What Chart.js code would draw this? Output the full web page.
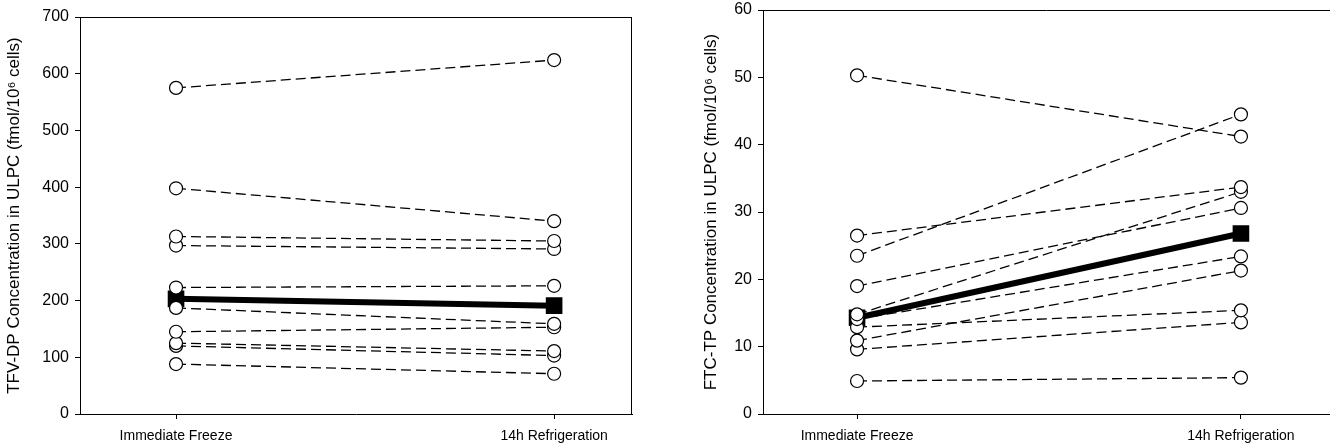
<!DOCTYPE html>
<html lang="en">
<head>
  <meta charset="UTF-8" />
  <title>ULPC Concentrations</title>
  <script src="https://cdn.jsdelivr.net/npm/chart.js"></script>
  <style>
    body {
      margin: 0;
      background: #ffffff;
      font-family: 'Liberation Sans', Arial, sans-serif;
    }
    .panel {
      position: absolute;
      top: 0;
    }
    #leftPanel { left: 0; }
    #rightPanel { left: 697px; }
  </style>
</head>
<body>

  <div class="panel" id="leftPanel"><canvas id="tfvChart" width="660" height="445"></canvas></div>
  <div class="panel" id="rightPanel"><canvas id="ftcChart" width="633" height="445"></canvas></div>

  <script>
    const conditions = ['Immediate Freeze', '14h Refrigeration'];

    // TFV-DP per subject (fmol/10^6 cells)
    const tfvFreeze  = [575, 398, 313, 297, 223, 187, 145, 125, 120, 88];
    const tfvFridge  = [624, 340, 305, 291, 226, 159, 153, 111, 103, 71];
    const tfvMean    = [203, 191];

    // FTC-TP per subject (fmol/10^6 cells)
    const ftcFreeze  = [50.3, 26.5, 23.5, 19.0, 14.8, 14.1, 12.9, 10.9, 9.6, 4.9];
    const ftcFridge  = [41.2, 33.7, 44.5, 30.6, 33.0, 23.4, 15.4, 21.3, 13.6, 5.4];
    const ftcMean    = [14.3, 26.8];

    const tfvTicks = [0, 100, 200, 300, 400, 500, 600, 700];
    const ftcTicks = [0, 10, 20, 30, 40, 50, 60];

    Chart.defaults.font.family = "'Liberation Sans', Arial, sans-serif";
    Chart.defaults.color = '#000';

    // draws the frame round the plot area (top/right edges)
    const frame = {
      id: 'frame',
      afterDraw(chart, args, opts) {
        const a = chart.chartArea, ctx = chart.ctx;
        ctx.save();
        ctx.strokeStyle = '#000';
        ctx.lineWidth = 1;
        ctx.beginPath();
        ctx.moveTo(a.left, a.top + 0.5);
        ctx.lineTo(a.right, a.top + 0.5);
        if (opts.right) {
          ctx.moveTo(a.right - 0.5, a.top);
          ctx.lineTo(a.right - 0.5, a.bottom);
        }
        ctx.stroke();
        ctx.restore();
      }
    };

    function subjectSets(before, after) {
      return before.map((v, i) => ({
        data: [{ x: 1, y: v }, { x: 2, y: after[i] }],
        borderColor: '#000',
        borderWidth: 1.3,
        borderDash: [10, 5],
        pointRadius: 6.5,
        pointBorderWidth: 1.2,
        pointBackgroundColor: '#fff',
        pointBorderColor: '#000'
      }));
    }

    function meanSet(vals) {
      return {
        data: [{ x: 1, y: vals[0] }, { x: 2, y: vals[1] }],
        borderColor: '#000',
        borderWidth: 6,
        pointStyle: 'rect',
        pointRadius: 7.5,
        pointBackgroundColor: '#000',
        pointBorderColor: '#000'
      };
    }

    function makeChart(id, sets, yMax, yTicks, title, xMin, xMax, yWidth, pad, rightEdge) {
      return new Chart(document.getElementById(id), {
        type: 'line',
        data: { datasets: sets },
        plugins: [frame],
        options: {
          responsive: false,
          animation: false,
          layout: { padding: pad, autoPadding: false },
          plugins: {
            legend: { display: false },
            tooltip: { enabled: false },
            frame: { right: rightEdge }
          },
          scales: {
            x: {
              type: 'linear',
              min: xMin,
              max: xMax,
              afterBuildTicks: s => { s.ticks = [{ value: 1 }, { value: 2 }]; },
              afterFit: s => { s.height = 31; s.paddingLeft = 0; s.paddingRight = 0; },
              ticks: {
                callback: v => conditions[v - 1],
                font: { size: 14 },
                padding: 9,
                maxRotation: 0
              },
              grid: { drawOnChartArea: false, tickLength: 5, color: '#000' },
              border: { color: '#000' }
            },
            y: {
              min: 0,
              max: yMax,
              afterBuildTicks: s => { s.ticks = yTicks.map(v => ({ value: v })); },
              afterFit: s => { s.width = yWidth; s.paddingTop = 0; s.paddingBottom = 0; },
              ticks: { font: { size: 16 }, padding: 6 },
              grid: { drawOnChartArea: false, tickLength: 5, color: '#000' },
              border: { color: '#000' },
              title: { display: true, text: title, font: { size: 17 }, padding: { bottom: 4 } }
            }
          }
        }
      });
    }

    makeChart('tfvChart',
      subjectSets(tfvFreeze, tfvFridge).concat([meanSet(tfvMean)]),
      700, tfvTicks, 'TFV-DP Concentration in ULPC (fmol/10\u2076 cells)',
      0.746, 2.206, 80, { top: 17, right: 28, bottom: 0, left: 0 }, true);

    makeChart('ftcChart',
      subjectSets(ftcFreeze, ftcFridge).concat([meanSet(ftcMean)]),
      60, ftcTicks, 'FTC-TP Concentration in ULPC (fmol/10\u2076 cells)',
      0.755, 2.232, 66, { top: 10, right: 0, bottom: 0, left: 0 }, false);
  </script>
</body>
</html>
